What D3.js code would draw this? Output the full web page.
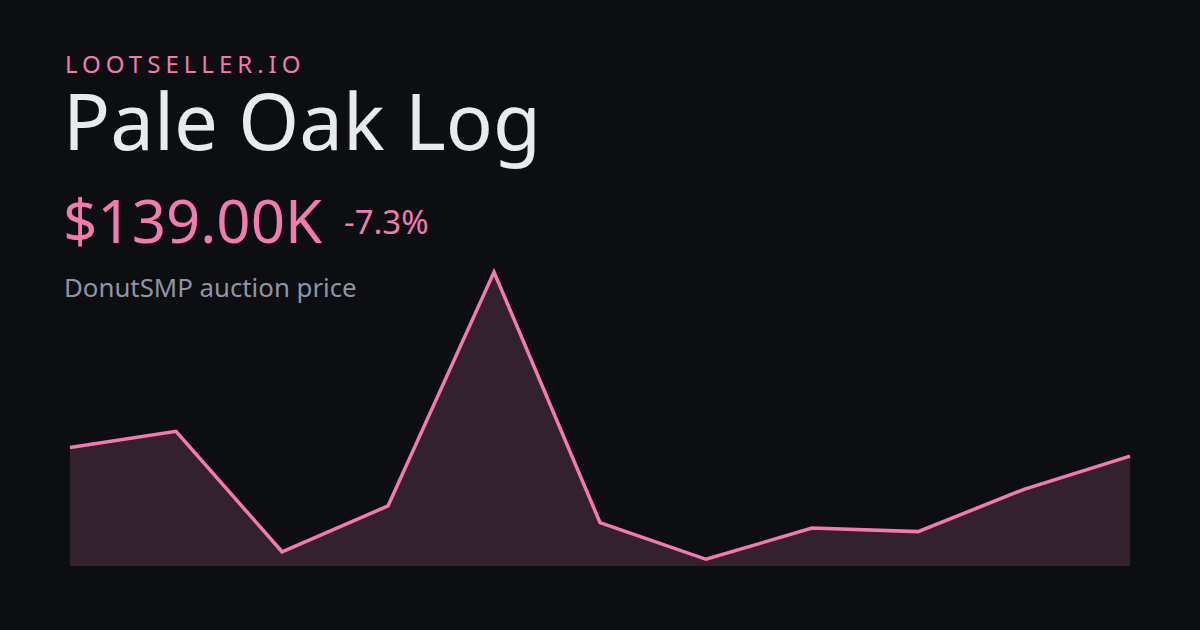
<!DOCTYPE html>
<html>
<head>
<meta charset="utf-8">
<script src="https://cdn.jsdelivr.net/npm/d3@7"></script>
<style>
  html, body { margin: 0; padding: 0; background: #0d0e11; }
  svg { display: block; }
  text { font-family: "Noto Sans", "Open Sans", sans-serif; }
</style>
</head>
<body>
<svg id="chart" width="1200" height="630"></svg>
<script>
const brand = "LOOTSELLER.IO";
const itemName = "Pale Oak Log";
const priceLabel = "$139.00K";
const changeLabel = "-7.3%";
const subtitle = "DonutSMP auction price";
// Price points in thousands of dollars
const periods = [0, 1, 2, 3, 4, 5, 6, 7, 8, 9, 10];
const prices = [150, 170.5, 18, 76, 372, 55, 8.5, 48, 43.5, 97, 139];

const svg = d3.select("#chart");
svg.append("rect").attr("width", 1200).attr("height", 630).attr("fill", "#0d0e11");

svg.append("text").attr("x", 65).attr("y", 73)
  .attr("fill", "#f27aae").attr("font-size", 24).attr("letter-spacing", 5)
  .text(brand);
svg.append("text").attr("x", 63).attr("y", 150)
  .attr("fill", "#e9eaee").attr("font-size", 78)
  .text(itemName);
svg.append("text").attr("x", 63).attr("y", 243)
  .attr("fill", "#f27aae").attr("font-size", 60)
  .text(priceLabel);
svg.append("text").attr("x", 344).attr("y", 234)
  .attr("fill", "#f27aae").attr("font-size", 33)
  .text(changeLabel);
svg.append("text").attr("x", 64).attr("y", 297)
  .attr("fill", "#9095a6").attr("font-size", 25.8)
  .text(subtitle);

const x = d3.scaleLinear().domain(d3.extent(periods)).range([70, 1130]);
const y = d3.scaleLinear().domain([0, d3.max(prices)]).range([566, 272]);

const data = periods.map((p, i) => ({ p, v: prices[i] }));

const area = d3.area().x(d => x(d.p)).y0(y(0)).y1(d => y(d.v));
const line = d3.line().x(d => x(d.p)).y(d => y(d.v));

svg.append("path").datum(data).attr("d", area).attr("fill", "#33212d");
svg.append("path").datum(data).attr("d", line)
  .attr("fill", "none").attr("stroke", "#f27aae").attr("stroke-width", 3.5)
  .attr("stroke-linejoin", "miter");
</script>
</body>
</html>
